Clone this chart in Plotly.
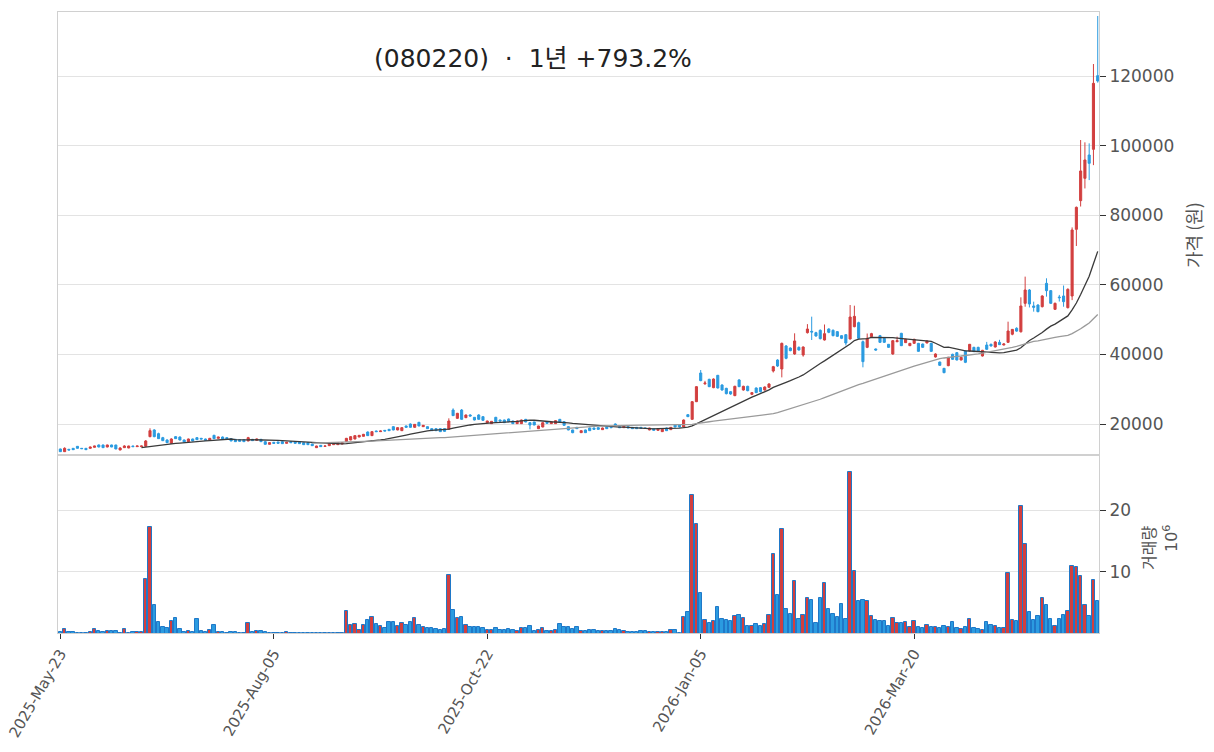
import plotly.graph_objects as go
from plotly.subplots import make_subplots
import pandas as pd

tick_idx = [0, 50, 100, 150, 200]
tick_labels = ["2025-May-23", "2025-Aug-05", "2025-Oct-22", "2026-Jan-05", "2026-Mar-20"]
price_ticks = [20000, 40000, 60000, 80000, 100000, 120000]
vol_ticks = [10, 20]

opens = [12820, 12050, 12720, 13010, 13580, 13010, 13010, 13010, 13300, 13970,
         13970, 13390, 13970, 13970, 12530, 13200, 13100, 13680, 13490, 13490,
         13580, 16360, 18280, 17220, 16070, 15400, 14440, 16360, 16260, 15400,
         14920, 15690, 16070, 15880, 15690, 15310, 16740, 15880, 16260, 16070,
         15790, 15590, 15500, 15500, 15120, 15590, 15310, 15590, 14920, 14160,
         14730, 14830, 14920, 14440, 14920, 14920, 14920, 14640, 14640, 14250,
         13200, 13870, 13580, 13770, 14060, 14060, 14250, 15020, 15400, 15690,
         16260, 16460, 17700, 16650, 17990, 17800, 18180, 18470, 19230, 18280,
         18080, 19430, 20000, 19040, 20480, 19230, 19230, 18660, 18660, 18660,
         18660, 18470, 24020, 21630, 24020, 21820, 22590, 21920, 22590, 22110,
         20380, 20100, 21920, 21150, 21150, 21440, 20860, 20100, 20100, 21340,
         20380, 20580, 18660, 19140, 20670, 20100, 20100, 21340, 20670, 19230,
         18280, 19040, 17510, 18280, 18850, 18850, 18950, 18370, 19230, 19230,
         20000, 19230, 18950, 19230, 19040, 19040, 19040, 18850, 18280, 18660,
         18180, 17800, 18850, 18370, 19710, 19710, 19140, 22680, 21340, 26420,
         34660, 31590, 32840, 30440, 33990, 31210, 30250, 29290, 28150, 32650,
         29770, 30830, 28530, 30350, 30440, 29770, 30540, 35230, 38390, 35810,
         42420, 41840, 40120, 42030, 39830, 46250, 46630, 46250, 46920, 44140,
         47300, 46920, 46540, 45390, 45680, 44430, 47970, 49120, 43660, 42030,
         45100, 41560, 45390, 44620, 42900, 40120, 43660, 46060, 43380, 42510,
         43180, 43180, 42990, 43280, 43180, 39260, 37820, 36000, 36770, 40020,
         40500, 38390, 40980, 40980, 42030, 42030, 39540, 42700, 42900, 42130,
         43470, 42700, 43470, 45800, 47500, 46500, 54680, 58510, 53920, 54200,
         53720, 60430, 58320, 52960, 56500, 56790, 53440, 56790, 75950, 84190,
         90610, 97310, 98940, 120110]
highs = [12900, 13300, 12850, 13100, 13650, 13100, 13050, 13500, 13750, 14100,
         14050, 14050, 14050, 14000, 13350, 13900, 13750, 13750, 13750, 13750,
         15400, 18760, 18500, 17500, 16300, 15600, 15900, 16550, 16400, 15550,
         15800, 15800, 16250, 16000, 15800, 16000, 16900, 16350, 16400, 16150,
         15900, 15700, 15600, 15600, 16300, 15700, 15800, 15700, 15000, 14750,
         14850, 14900, 15000, 14800, 15000, 15000, 15000, 14700, 14700, 14300,
         13750, 13950, 13750, 14500, 14500, 14700, 14700, 16000, 16500, 16750,
         16850, 17150, 17850, 17900, 18100, 18100, 18250, 18550, 19350, 19050,
         19050, 19550, 20150, 20000, 20600, 19700, 19300, 18750, 18750, 18750,
         18750, 21630, 24500, 23200, 24300, 22700, 22800, 22000, 22800, 22200,
         20950, 20850, 22050, 21250, 21250, 21550, 20950, 20950, 21250, 21450,
         20450, 20650, 19500, 20450, 20750, 20750, 21050, 21450, 20750, 19300,
         18350, 19150, 18150, 18350, 18950, 18950, 19050, 18950, 19300, 19300,
         20150, 19300, 19400, 19300, 19100, 19100, 19100, 18900, 18900, 18750,
         18650, 18550, 18950, 19100, 19800, 19800, 21300, 22800, 26600, 30900,
         35520, 32400, 33000, 33100, 34100, 31400, 30400, 29400, 31000, 32900,
         31000, 31000, 29200, 30500, 30600, 30800, 31700, 36700, 38600, 43400,
         42700, 42000, 46060, 42300, 42300, 48700, 50850, 46500, 47200, 48600,
         47500, 47200, 46700, 45500, 45800, 54200, 54000, 49400, 44000, 46000,
         46200, 41700, 45600, 44800, 43000, 44100, 45100, 46200, 44500, 43300,
         44500, 43300, 43100, 44000, 43300, 40300, 37900, 36100, 39300, 40200,
         40700, 39300, 41100, 43000, 42200, 42200, 41300, 43600, 43100, 43800,
         44200, 43200, 49410, 47300, 47800, 56400, 62350, 58800, 55160, 54400,
         57000, 61870, 58500, 54900, 57100, 59800, 59000, 76500, 82500, 101620,
         100950, 100660, 123460, 137260]
lows = [11950, 12000, 12450, 12550, 12950, 12850, 12550, 12950, 13250, 13300,
        13150, 13300, 13350, 12750, 12450, 13150, 13050, 13450, 13450, 13450,
        13500, 16200, 16200, 15700, 15100, 14550, 14350, 15700, 15300, 14750,
        14850, 15050, 15400, 15600, 15200, 15250, 15700, 15800, 15600, 15700,
        15050, 14850, 14950, 14850, 15050, 15150, 15250, 14850, 14100, 14100,
        14400, 14400, 14300, 14400, 14600, 14400, 14300, 14000, 14000, 13700,
        13100, 13450, 13500, 13700, 14000, 14000, 14200, 14950, 15350, 15600,
        16200, 16400, 16600, 16550, 17750, 17750, 17950, 18000, 18200, 18200,
        18000, 19000, 19000, 18950, 19350, 19150, 18600, 18000, 18000, 17750,
        17800, 18400, 22300, 21500, 21250, 21700, 22200, 21050, 21250, 20950,
        20300, 20000, 20600, 20800, 20300, 20600, 20000, 20000, 20000, 20500,
        18470, 19650, 18550, 19050, 20100, 20000, 20000, 20500, 19550, 18200,
        17350, 18600, 17450, 17450, 18000, 18400, 18400, 18300, 18600, 18900,
        19550, 18900, 18900, 18800, 18600, 18600, 18700, 18700, 18200, 18100,
        18100, 17750, 18000, 18300, 19050, 19050, 19000, 22000, 21300, 26300,
        32300, 31200, 30600, 30300, 30200, 29600, 28500, 28400, 28000, 30600,
        29600, 29400, 28300, 28900, 29100, 29600, 30400, 34800, 36400, 33400,
        38600, 40900, 39900, 41100, 39350, 46000, 44140, 45100, 44300, 44000,
        46100, 45200, 45000, 44400, 42600, 44300, 47800, 44400, 36290, 41800,
        44900, 41100, 43300, 43300, 41900, 39900, 43500, 42400, 43300, 42400,
        43100, 40800, 41900, 43200, 40700, 39100, 36700, 34600, 36600, 38400,
        38300, 38300, 37500, 40800, 40700, 40800, 39400, 41300, 42300, 42000,
        42700, 42600, 43300, 45500, 46500, 46300, 53700, 53500, 52290, 52100,
        53500, 56600, 54500, 52800, 55200, 53700, 53200, 55600, 71160, 82500,
        87700, 90100, 94400, 118100]
closes = [12050, 13010, 12530, 12620, 13010, 12910, 12620, 13390, 13680, 13390,
          13200, 13970, 13390, 12820, 13100, 13680, 13680, 13490, 13680, 13680,
          15120, 18080, 16360, 15790, 15210, 14640, 15690, 15790, 15400, 14830,
          15690, 15120, 15500, 15690, 15310, 15880, 15790, 16260, 15690, 15790,
          15120, 14920, 15020, 14920, 16070, 15210, 15690, 14920, 14160, 14640,
          14440, 14440, 14350, 14730, 14640, 14440, 14350, 14060, 14060, 13770,
          13680, 13490, 13680, 14440, 14440, 14640, 14640, 15880, 16360, 16650,
          16740, 17030, 16650, 17800, 17800, 17990, 17990, 18080, 18280, 18950,
          18950, 19040, 19040, 19900, 19430, 19620, 18660, 18080, 18080, 17800,
          17890, 20860, 22400, 23070, 21340, 22590, 22300, 21150, 21340, 21050,
          20860, 20770, 20670, 20860, 20380, 20670, 20100, 20860, 21150, 20580,
          19710, 19710, 19430, 20380, 20190, 20670, 20960, 20580, 19620, 18280,
          17510, 18660, 18080, 17510, 18080, 18470, 18470, 18850, 18660, 18950,
          19620, 18950, 19330, 18850, 18660, 18660, 18760, 18760, 18850, 18180,
          18560, 18470, 18080, 19040, 19140, 19140, 21150, 22110, 26420, 30730,
          32460, 31780, 30730, 32930, 30350, 29770, 28720, 28620, 30830, 30730,
          30830, 29580, 29010, 29010, 29290, 30630, 31500, 36480, 36670, 43180,
          38870, 41080, 43860, 41270, 42130, 47300, 46440, 45290, 44530, 45960,
          46350, 45390, 45200, 44620, 43280, 50750, 50940, 44620, 37920, 44620,
          45960, 41270, 43470, 43470, 42030, 43950, 43950, 42510, 44330, 43180,
          44330, 40880, 42030, 43860, 40880, 40120, 36860, 34750, 39160, 38590,
          38390, 39160, 37720, 42900, 40790, 40980, 41170, 41460, 42420, 43570,
          42800, 42990, 46730, 47200, 46700, 53920, 58510, 54490, 53530, 52290,
          56790, 58320, 54680, 54680, 56300, 55160, 58700, 75760, 82270, 92720,
          95880, 94920, 117910, 118580]
volumes = [0.2, 0.7, 0.3, 0.3, 0.1, 0.1, 0.1, 0.3, 0.7, 0.5,
           0.3, 0.5, 0.5, 0.5, 0.1, 0.8, 0.1, 0.3, 0.3, 0.3,
           8.8, 17.3, 4.6, 1.8, 1.1, 0.9, 2.1, 2.6, 0.7, 0.2,
           0.5, 0.2, 2.3, 0.5, 0.2, 0.6, 1.4, 0.3, 0.2, 0.05,
           0.3, 0.2, 0.05, 0.05, 1.7, 0.2, 0.5, 0.5, 0.2, 0.05,
           0.05, 0.05, 0.05, 0.2, 0.05, 0.05, 0.05, 0.05, 0.05, 0.05,
           0.05, 0.05, 0.05, 0.05, 0.05, 0.05, 0.1, 3.6, 1.4, 1.5,
           0.6, 1.4, 2.2, 2.7, 1.5, 1.3, 0.9, 1.8, 1.9, 1.2,
           1.7, 1.45, 1.9, 2.5, 1.45, 1.1, 0.9, 0.9, 0.75, 0.6,
           0.75, 9.5, 3.8, 2.5, 2.7, 1.4, 1.1, 1.1, 1.1, 0.9,
           0.55, 0.55, 0.9, 0.6, 0.6, 0.75, 0.6, 0.4, 0.9, 0.9,
           1.3, 0.4, 0.6, 0.9, 0.4, 0.4, 0.6, 1.6, 1.1, 1.1,
           0.75, 1.1, 0.4, 0.4, 0.6, 0.6, 0.4, 0.4, 0.4, 0.4,
           0.75, 0.6, 0.4, 0.3, 0.2, 0.2, 0.4, 0.4, 0.2, 0.2,
           0.2, 0.2, 0.2, 0.6, 0.6, 0.1, 2.7, 3.5, 22.4, 17.7,
           6.6, 2.15, 1.7, 2.0, 4.3, 2.4, 2.2, 2.0, 2.85, 3.0,
           2.5, 1.24, 1.24, 1.56, 1.24, 1.56, 3.0, 12.85, 6.24, 17.0,
           4.0, 3.2, 8.5, 2.4, 3.0, 5.75, 5.4, 1.7, 5.75, 8.2,
           4.0, 3.2, 2.7, 4.8, 2.4, 26.1, 10.1, 5.3, 5.4, 5.3,
           2.85, 2.2, 2.0, 2.0, 1.24, 2.5, 1.7, 1.7, 1.9, 1.1,
           2.0, 1.1, 0.9, 1.4, 1.1, 1.1, 0.9, 1.24, 1.1, 1.9,
           0.9, 0.75, 1.1, 2.4, 0.9, 0.75, 0.6, 1.9, 1.4, 1.24,
           0.9, 0.9, 9.8, 2.2, 2.0, 20.6, 14.5, 3.5, 2.2, 2.85,
           5.75, 4.6, 2.4, 1.24, 2.4, 3.0, 3.66, 10.9, 10.75, 9.3,
           4.6, 2.85, 8.66, 5.3]

UP = "#d23f3f"
DOWN = "#2b9be0"
VOL_EDGE = "#1f78c8"
GRID = "#e3e3e3"
FONT = "DejaVu Sans, Noto Sans CJK KR"
KFONT = "Noto Sans CJK KR"

df = pd.DataFrame({"o": opens, "h": highs, "l": lows, "c": closes, "v": volumes})
df["x"] = range(len(df))
ma20 = df["c"].rolling(20).mean()
ma60 = df["c"].rolling(60).mean()
vcolors = [UP if c >= o else DOWN for o, c in zip(df["o"], df["c"])]

fig = make_subplots(rows=2, cols=1, shared_xaxes=True, vertical_spacing=0,
                    row_heights=[443, 178])

fig.add_trace(go.Candlestick(
    x=df["x"], open=df["o"], high=df["h"], low=df["l"], close=df["c"],
    increasing=dict(line=dict(color=UP, width=1), fillcolor=UP),
    decreasing=dict(line=dict(color=DOWN, width=1), fillcolor=DOWN),
    whiskerwidth=0, showlegend=False), row=1, col=1)
fig.add_trace(go.Scatter(x=df["x"], y=ma20, mode="lines",
                         line=dict(color="#3a3a3a", width=1.3), showlegend=False), row=1, col=1)
fig.add_trace(go.Scatter(x=df["x"], y=ma60, mode="lines",
                         line=dict(color="#9a9a9a", width=1.3), showlegend=False), row=1, col=1)
fig.add_trace(go.Bar(x=df["x"], y=df["v"], width=0.8,
                     marker=dict(color=vcolors, line=dict(color=VOL_EDGE, width=1)),
                     showlegend=False), row=2, col=1)

tickfont = dict(family=FONT, size=17, color="#555555")
fig.update_layout(
    width=1214, height=752,
    margin=dict(l=58, r=115, t=12, b=119, autoexpand=False),
    paper_bgcolor="white", plot_bgcolor="white",
    bargap=0, xaxis_rangeslider_visible=False,
    font=dict(family=FONT),
)
for r in (1, 2):
    fig.update_xaxes(range=[-0.55, 243.3], showgrid=False, showline=True, mirror=True,
                     linecolor="#d0d0d0", linewidth=1, zeroline=False, automargin=False,
                     tickvals=tick_idx, ticktext=tick_labels, row=r, col=1)
fig.update_xaxes(showticklabels=False, ticks="", rangeslider_visible=False, row=1, col=1)
fig.update_xaxes(ticks="outside", ticklen=5, tickcolor="#333333", tickangle=-60,
                 tickfont=dict(family=FONT, size=15, color="#555555"),
                 ticklabeloverflow="allow", row=2, col=1)
fig.update_yaxes(side="right", range=[11090, 138410], tickvals=price_ticks,
                 ticktext=[str(v) for v in price_ticks], automargin=False,
                 showgrid=True, gridcolor=GRID, showline=True, mirror=True, linecolor="#d0d0d0",
                 ticks="outside", ticklen=6, tickcolor="#333333", tickfont=tickfont,
                 zeroline=False, row=1, col=1)
fig.update_yaxes(side="right", range=[0.1, 28.9], tickvals=vol_ticks,
                 ticktext=[str(v) for v in vol_ticks], automargin=False,
                 showgrid=True, gridcolor=GRID, showline=True, mirror=True, linecolor="#d0d0d0",
                 ticks="outside", ticklen=6, tickcolor="#333333", tickfont=tickfont,
                 zeroline=False, row=2, col=1)

def px_x(p):
    return (p - 58) / (1099 - 58)

def px_y(p):
    return (633 - p) / (633 - 12)

fig.add_annotation(text="(080220)  ·  1년 +793.2%", xref="paper", yref="paper",
                   x=px_x(533), y=px_y(58), xanchor="center", yanchor="middle", showarrow=False,
                   font=dict(family=FONT, size=25, color="#222222"))
fig.add_annotation(text="가격 (원)", xref="paper", yref="paper",
                   x=px_x(1193), y=px_y(235), textangle=-90,
                   xanchor="center", yanchor="middle", showarrow=False,
                   font=dict(family=KFONT, size=18, color="#555555"))
fig.add_annotation(text="거래량", xref="paper", yref="paper",
                   x=px_x(1148), y=px_y(548), textangle=-90,
                   xanchor="center", yanchor="middle", showarrow=False,
                   font=dict(family=KFONT, size=16, color="#555555"))
fig.add_annotation(text="10<sup>6</sup>", xref="paper", yref="paper",
                   x=px_x(1170), y=px_y(539), textangle=-90,
                   xanchor="center", yanchor="middle", showarrow=False,
                   font=dict(family=FONT, size=16, color="#555555"))

fig.write_html("out.html")
